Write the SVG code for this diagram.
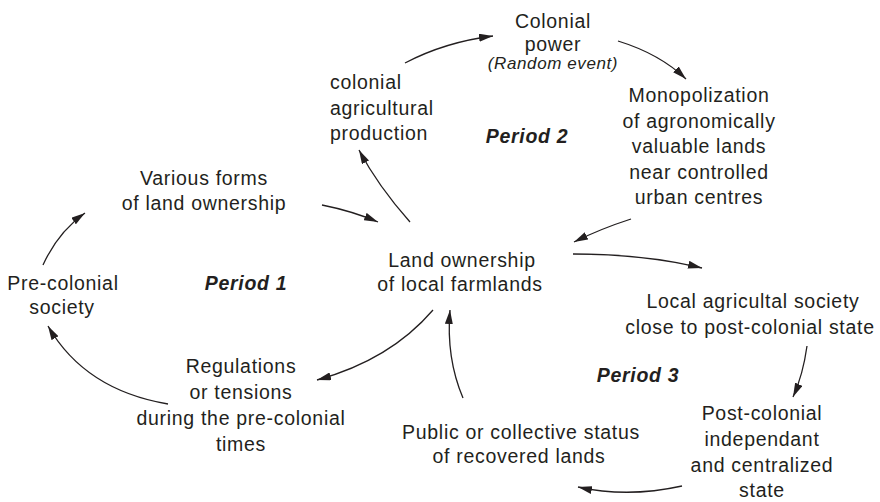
<svg xmlns="http://www.w3.org/2000/svg" width="880" height="502" viewBox="0 0 880 502">
  <style>
    text { font-family: "Liberation Sans", Arial, sans-serif; font-size: 19.5px; letter-spacing: 0.7px; fill: #231f20; text-anchor: middle; }
    .left { text-anchor: start; }
    .note { font-style: italic; font-size: 17px; letter-spacing: 0.6px; }
    .period { font-weight: bold; font-style: italic; }
    .link { fill: none; stroke: #231f20; stroke-width: 1.3; marker-end: url(#head); }
  </style>
  <defs>
    <marker id="head" viewBox="0 0 14 8" refX="14" refY="4" markerWidth="14" markerHeight="8" markerUnits="userSpaceOnUse" orient="auto">
      <path d="M0,0 L14,4 L0,8 Z" fill="#231f20"/>
    </marker>
  </defs>
  <rect width="880" height="502" fill="#ffffff"/>

  <!-- cycle nodes -->
  <g id="colonial-power">
    <text x="553" y="28">Colonial</text>
    <text x="553" y="51">power</text>
    <text class="note" x="553" y="69">(Random event)</text>
  </g>
  <g id="colonial-production">
    <text class="left" x="330" y="89">colonial</text>
    <text class="left" x="330" y="114.5">agricultural</text>
    <text class="left" x="330" y="140">production</text>
  </g>
  <g id="monopolization">
    <text x="699" y="102">Monopolization</text>
    <text x="699" y="128">of agronomically</text>
    <text x="699" y="153">valuable lands</text>
    <text x="699" y="179">near controlled</text>
    <text x="699" y="204">urban centres</text>
  </g>
  <g id="various-forms">
    <text x="204" y="185">Various forms</text>
    <text x="204" y="210">of land ownership</text>
  </g>
  <g id="land-ownership">
    <text x="462" y="267">Land ownership</text>
    <text x="460" y="291">of local farmlands</text>
  </g>
  <g id="pre-colonial">
    <text x="63" y="290">Pre-colonial</text>
    <text x="62" y="314">society</text>
  </g>
  <g id="local-society">
    <text x="753" y="308">Local agricultal society</text>
    <text x="750" y="334">close to post-colonial state</text>
  </g>
  <g id="regulations">
    <text x="241" y="373">Regulations</text>
    <text x="241" y="399">or tensions</text>
    <text x="241" y="425">during the pre-colonial</text>
    <text x="241" y="451">times</text>
  </g>
  <g id="public-status">
    <text x="521" y="439">Public or collective status</text>
    <text x="519" y="463">of recovered lands</text>
  </g>
  <g id="post-colonial-state">
    <text x="762" y="420">Post-colonial</text>
    <text x="762" y="446">independant</text>
    <text x="762" y="472">and centralized</text>
    <text x="762" y="497">state</text>
  </g>

  <!-- period labels -->
  <g id="periods">
    <text class="period" x="527" y="143">Period 2</text>
    <text class="period" x="246" y="290">Period 1</text>
    <text class="period" x="638" y="382">Period 3</text>
  </g>

  <!-- connectors -->
  <g id="connectors">
    <path class="link" d="M43,265 Q58,232 85,213"/>
    <path class="link" d="M322,205 Q352,211 378,222"/>
    <path class="link" d="M410,222 Q378,186 359,150"/>
    <path class="link" d="M405,63 Q445,42 493,36"/>
    <path class="link" d="M618,41 Q660,54 686,79"/>
    <path class="link" d="M631,219 Q600,229 574,242"/>
    <path class="link" d="M573,254 Q645,254 702,268"/>
    <path class="link" d="M807,346 Q803,375 793,397"/>
    <path class="link" d="M682,486 Q628,498 578,487"/>
    <path class="link" d="M463,398 Q446,358 450,310"/>
    <path class="link" d="M433,310 Q390,360 317,380"/>
    <path class="link" d="M168,404 Q85,390 48,326"/>
  </g>
</svg>
